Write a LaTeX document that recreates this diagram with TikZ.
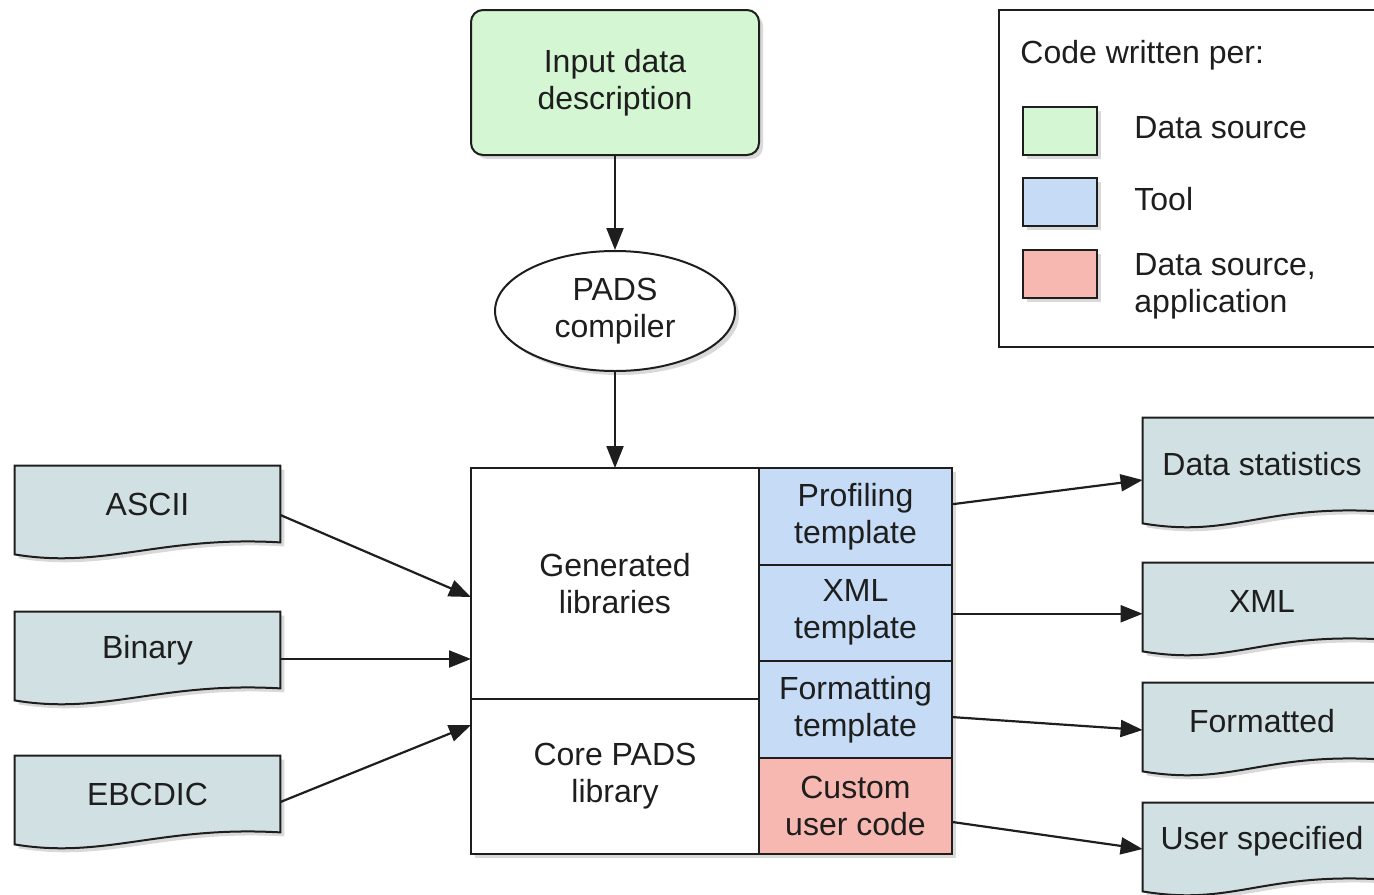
\documentclass[tikz,border=0pt]{standalone}
\usepackage{fontspec}
\setmainfont{Liberation Sans}
\usetikzlibrary{shapes.geometric, arrows.meta, positioning, shadows, backgrounds}
\definecolor{srcgreen}{HTML}{D5F6D3}
\definecolor{toolblue}{HTML}{C6DCF6}
\definecolor{apppink}{HTML}{F6B8B0}
\definecolor{docgray}{HTML}{D1E0E2}
\definecolor{inkgray}{HTML}{1E1E1E}
\tikzset{
    softshadow/.style={drop shadow={shadow xshift=2pt, shadow yshift=-2pt, opacity=0.3}},
    source/.style={rectangle, rounded corners=6pt, minimum width=144pt, minimum height=72.5pt, align=center, draw=inkgray, line width=1pt, fill=srcgreen, softshadow},
    compiler/.style={ellipse, minimum width=120pt, minimum height=60pt, inner sep=0pt, align=center, draw=inkgray, line width=1pt, fill=white, softshadow},
    library/.style={rectangle, minimum width=144pt, align=center, draw=inkgray, line width=1pt, fill=white, outer sep=0pt, softshadow},
    template/.style={rectangle, minimum width=96.5pt, minimum height=48.25pt, inner sep=0pt, align=center, draw=inkgray, line width=1pt, fill=toolblue, outer sep=0pt, softshadow},
    usercode/.style={template, fill=apppink},
    dataset/.style={rectangle, minimum width=132.5pt, minimum height=38pt, inner sep=0pt, align=center},
    output/.style={dataset, minimum width=119pt},
    datasetline/.style={draw=inkgray, line width=1pt, fill=docgray, softshadow},
    arrow/.style={line width=1.1pt, draw=inkgray, -{Triangle[length=11pt, width=8.5pt]}},
    legendbox/.style={rectangle, draw=inkgray, line width=1pt, minimum width=200pt, minimum height=168.5pt, outer sep=0pt},
    swatch/.style={rectangle, draw=inkgray, line width=1pt, minimum width=37pt, minimum height=24pt, softshadow},
    legendtext/.style={align=left, inner sep=0pt}
}
% outline of a data file: flat top, wavy bottom
\newcommand{\dataoutline}[1]{%
    \path[datasetline] (#1.north west) -- (#1.north east) -- (#1.south east)
        .. controls +(-60pt,3.5pt) and +(45pt,-7.5pt) .. ([yshift=-6pt]#1.south west) -- cycle;}

\begin{document}
\begin{tikzpicture}[x=0.5pt, y=-0.5pt, every node/.append style={font=\fontsize{16pt}{18.5pt}\selectfont, text=inkgray}]
    \useasboundingbox (0,0) rectangle (1374,894);
    \clip (0,0) rectangle (1374,894);

    \node (input) [source] at (615,82.5) {Input data\\description};
    \node (pads) [compiler, below=47pt of input] {PADS\\compiler};
    \node (gen) [library, minimum height=115.5pt, below=48pt of pads] {Generated\\libraries};
    \node (core) [library, minimum height=77.5pt, below=0pt of gen] {Core PADS\\library};
    \node (prof) [template, anchor=north west] at (gen.north east) {Profiling\\template};
    \node (xmlt) [template, below=0pt of prof] {XML\\template};
    \node (fmtt) [template, below=0pt of xmlt] {Formatting\\template};
    \node (cust) [usercode, below=0pt of fmtt] {Custom\\user code};

    % input files
    \node (ascii) [dataset] at (147.5,504) {ASCII};
    \node (binary) [dataset] at (147.5,650) {Binary};
    \node (ebcdic) [dataset] at (147.5,794) {EBCDIC};

    % outputs
    \node (stats) [output, minimum height=46.5pt] at (1262,464.5) {Data statistics};
    \node (xmlout) [output] at (1262,601) {XML};
    \node (fmtout) [output] at (1262,721) {Formatted};
    \node (userout) [output] at (1262,841) {User specified};

    \begin{pgfonlayer}{background}
        \foreach \d in {ascii,binary,ebcdic,stats,xmlout,fmtout,userout}
            {\dataoutline{\d}}
    \end{pgfonlayer}

    % legend
    \node (legend) [legendbox, anchor=north west] at (999,10) {};
    \node (lgtitle) [legendtext, anchor=west] at (1020,55) {Code written per:};
    \node (swsrc) [swatch, fill=srcgreen] at (1060,131) {};
    \node (swtool) [swatch, fill=toolblue] at (1060,202) {};
    \node (swapp) [swatch, fill=apppink] at (1060,274) {};
    \node (lgsrc) [legendtext, right=18pt of swsrc, yshift=1.5pt] {Data source};
    \node (lgtool) [legendtext, right=18pt of swtool, yshift=1.5pt] {Tool};
    \node (lgapp) [legendtext, right=18pt of swapp, yshift=-6pt] {Data source,\\application};

    \draw [arrow] (input) -- (pads);
    \draw [arrow] (pads) -- (gen);

    \draw [arrow] ([yshift=-5.5pt]ascii.east) -- ([yshift=-6.75pt]gen.west);
    \draw [arrow] ([yshift=-4.5pt]binary.east) coordinate (b) -- (b -| gen.west);
    \draw [arrow] ([yshift=-4pt]ebcdic.east) -- ([yshift=25.75pt]core.west);

    \draw [arrow] ([yshift=6pt]prof.east) -- ([yshift=-7.75pt]stats.west);
    \draw [arrow] ([yshift=-0.5pt]xmlt.east) coordinate (x) -- (x -| xmlout.west);
    \draw [arrow] ([yshift=-3.9pt]fmtt.east) -- ([yshift=-4.5pt]fmtout.west);
    \draw [arrow] ([yshift=-8.1pt]cust.east) -- ([yshift=-4pt]userout.west);

\end{tikzpicture}
\end{document}
